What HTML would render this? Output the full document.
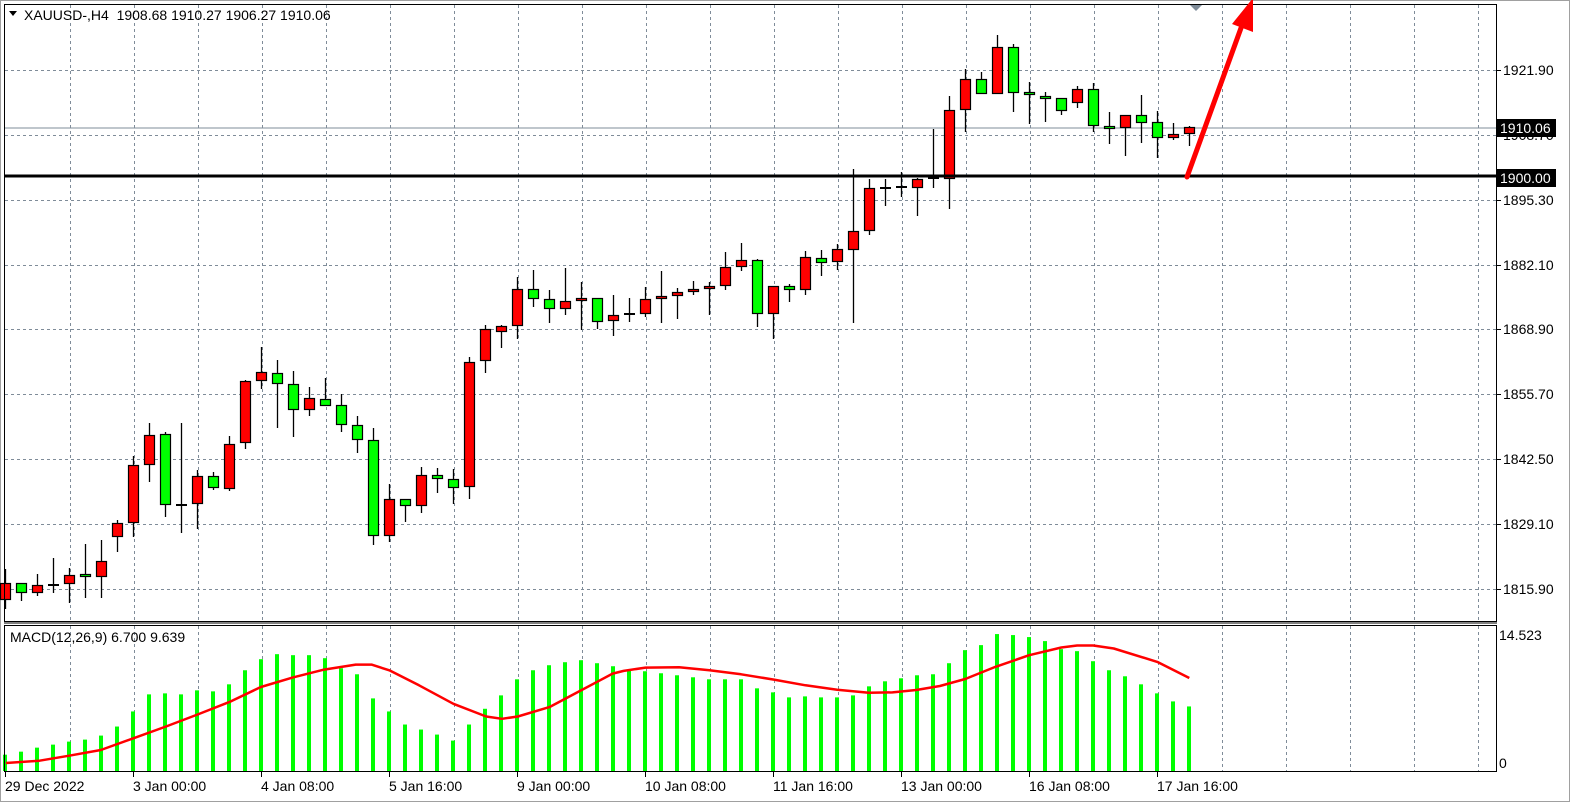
<!DOCTYPE html>
<html><head><meta charset="utf-8"><style>
body{margin:0;background:#fff;width:1571px;height:803px;overflow:hidden;font-family:"Liberation Sans",sans-serif}
svg{display:block}
text{font-family:"Liberation Sans",sans-serif;font-size:14px;fill:#000}
</style></head><body>
<svg id="s" width="1571" height="803" xmlns="http://www.w3.org/2000/svg">
<rect x="0" y="0" width="1571" height="803" fill="#fff"/>
<rect x="0.5" y="0.5" width="1569" height="801" fill="none" stroke="#a0a0a0"/>
<g id="grid"></g>
<line x1="4" y1="128" x2="1497" y2="128" stroke="#7f8c99" stroke-width="1"/>
<g id="candles"></g>
<g id="macd"></g>
<line x1="4" y1="176" x2="1497" y2="176" stroke="#000" stroke-width="3"/>
<rect x="4.5" y="4.5" width="1492" height="617" fill="none" stroke="#000"/>
<rect x="4.5" y="625.5" width="1492" height="146" fill="none" stroke="#000"/>
<line x1="4" y1="623" x2="1497" y2="623" stroke="#000"/>
<polygon points="1190,5 1202,5 1196,11" fill="#7f8c99"/>
<line x1="1187" y1="177" x2="1241" y2="28" stroke="#ff0000" stroke-width="5" stroke-linecap="round"/>
<polygon points="1232,24 1253,-2 1253,32" fill="#ff0000"/>
<polygon points="9,11 17,11 13,16" fill="#000"/>
<text x="24" y="20" xml:space="preserve">XAUUSD-,H4  1908.68 1910.27 1906.27 1910.06</text>
<text x="10" y="642">MACD(12,26,9) 6.700 9.639</text>
<g id="paxis">
<text x="1503" y="75">1921.90</text>
<text x="1503" y="140">1908.70</text>
<text x="1503" y="205">1895.30</text>
<text x="1503" y="270">1882.10</text>
<text x="1503" y="334">1868.90</text>
<text x="1503" y="399">1855.70</text>
<text x="1503" y="464">1842.50</text>
<text x="1503" y="529">1829.10</text>
<text x="1503" y="594">1815.90</text>
<text x="1499" y="640">14.523</text>
<text x="1499" y="768">0</text>
</g>
<rect x="1497" y="119" width="59" height="18" fill="#000"/>
<text x="1500" y="133" style="fill:#fff">1910.06</text>
<rect x="1497" y="169" width="59" height="18" fill="#000"/>
<text x="1500" y="183" style="fill:#fff">1900.00</text>
<g>
<text x="5" y="791">29 Dec 2022</text>
<text x="133" y="791">3 Jan 00:00</text>
<text x="261" y="791">4 Jan 08:00</text>
<text x="389" y="791">5 Jan 16:00</text>
<text x="517" y="791">9 Jan 00:00</text>
<text x="645" y="791">10 Jan 08:00</text>
<text x="773" y="791">11 Jan 16:00</text>
<text x="901" y="791">13 Jan 00:00</text>
<text x="1029" y="791">16 Jan 08:00</text>
<text x="1157" y="791">17 Jan 16:00</text>
</g>
</svg>
<script>
const NS="http://www.w3.org/2000/svg";
function el(p,t,a){const e=document.createElementNS(NS,t);for(const k in a)e.setAttribute(k,a[k]);p.appendChild(e);return e;}
const g=document.getElementById('grid');
for(let k=0;k<=22;k++){const x=Math.round(69.5+64.03*k)+0.5;
 el(g,'line',{x1:x,y1:5,x2:x,y2:621,stroke:'#7f8c99','stroke-dasharray':'3,3'});
 el(g,'line',{x1:x,y1:626,x2:x,y2:771,stroke:'#7f8c99','stroke-dasharray':'3,3'});}
[70,135,200,265,329,394,459,524,589].forEach(y=>{el(g,'line',{x1:5,y1:y+0.5,x2:1497,y2:y+0.5,stroke:'#7f8c99','stroke-dasharray':'3,3'});el(g,'line',{x1:1497,y1:y+0.5,x2:1501,y2:y+0.5,stroke:'#000'});});
el(g,'line',{x1:5,y1:771.5,x2:1497,y2:771.5,stroke:'#7f8c99','stroke-dasharray':'3,3'});
[5,133,261,389,517,645,773,901,1029,1157].forEach(x=>el(g,'line',{x1:x+0.5,y1:772,x2:x+0.5,y2:777,stroke:'#000'}));
const C=[[583,600,569,609,'r'],[583,593,583,601,'g'],[585,593,574,596,'r'],[585,585,558,593,'d'],[575,584,568,603,'r'],[574,577,544,598,'g'],[561,577,540,598,'r'],[523,537,520,552,'r'],[465,523,456,537,'r'],[435,465,423,482,'r'],
[434,505,432,517,'g'],[505,505,423,533,'d'],[476,504,470,529,'r'],[476,488,472,490,'g'],[444,489,436,491,'r'],[381,443,380,449,'r'],[372,381,347,389,'r'],[373,384,360,428,'g'],[384,410,371,437,'g'],[398,410,387,416,'r'],
[399,406,378,406,'g'],[405,425,394,432,'g'],[425,440,416,453,'g'],[440,536,428,545,'g'],[499,536,484,542,'r'],[499,506,499,522,'g'],[475,506,467,513,'r'],[475,479,468,493,'g'],[479,488,469,504,'g'],[362,487,357,499,'r'],
[329,361,325,373,'r'],[326,332,325,348,'r'],[289,326,277,339,'r'],[289,299,270,307,'g'],[299,309,290,323,'g'],[301,309,268,315,'r'],[298,300,282,330,'r'],[298,322,298,329,'g'],[315,321,295,336,'r'],[314,314,298,322,'d'],
[299,314,287,317,'r'],[296,299,271,323,'r'],[292,296,288,319,'r'],[289,292,281,295,'r'],[286,289,282,315,'r'],[267,286,252,290,'r'],[260,267,243,271,'r'],[260,314,259,327,'g'],[286,314,286,339,'r'],[286,290,284,302,'g'],
[257,290,251,295,'r'],[258,263,250,276,'g'],[249,262,244,270,'r'],[231,250,169,323,'r'],[188,231,179,235,'r'],[188,188,179,206,'d'],[187,187,172,197,'d'],[179,188,178,216,'r'],[178,180,129,188,'d'],[110,179,96,209,'r'],
[79,110,69,132,'r'],[79,94,72,94,'g'],[47,94,35,94,'r'],[47,93,44,112,'g'],[92,95,82,124,'g'],[96,98,92,122,'g'],[98,111,98,115,'g'],[89,103,86,108,'r'],[89,126,83,132,'g'],[126,128,112,144,'g'],
[115,128,115,156,'r'],[115,123,95,143,'g'],[122,138,111,158,'g'],[134,138,123,140,'r'],[127,134,126,146,'r']];
const cg=document.getElementById('candles');
C.forEach((c,i)=>{const x=Math.round(5.3+16*i)+0.5;
 el(cg,'line',{x1:x,y1:c[2],x2:x,y2:c[3],stroke:'#000','stroke-width':1.3});
 if(c[4]==='d'){el(cg,'rect',{x:x-5.5,y:c[0]-1,width:11,height:2,fill:'#000'});}
 else el(cg,'rect',{x:x-5,y:c[0]+0.5,width:10,height:Math.max(2,c[1]-c[0]-1),fill:c[4]==='r'?'#ff0000':'#00ff00',stroke:'#000','stroke-width':1.2});
});
const M=[402,393,381,372,363,357,345,318,273,222,219,222,210,213,192,150,117,102,105,105,114,144,162,234,273,312,327,342,360,312,265,225,177,150,135,126,120,129,138,
150,153,159,165,171,177,177,177,204,216,231,228,231,231,225,198,183,174,165,162,129,90,75,42,45,51,63,87,93,123,150,168,192,219,243,258];
const mg=document.getElementById('macd');
M.forEach((v,i)=>{const x=Math.round(5.3+16*i);const y=620+v/2.985;
 el(mg,'rect',{x:x-2,y:y,width:4,height:771-y,fill:'#00ff00'});});
const S1=[[15,427],[100,420],[175,405],[255,388],[340,352],[420,318],[500,282],[580,245],[660,200],[740,172],[820,148],[900,133],[940,133],[985,150],[1060,195],[1147,250],[1230,288],[1270,295],[1310,288],[1390,260],[1470,210],[1550,160]];
const S2=[[0,180],[60,152],[115,142],[200,141],[277,150],[357,162],[440,178],[520,195],[600,208],[680,217],[740,216],[800,209],[860,197],[924,176],[1000,140],[1086,105],[1167,82],[1207,76],[1248,76],[1300,85],[1410,125],[1491,173]];
const pts=S1.map(p=>[p[0]/2.53,620+p[1]/2.985]).concat(S2.map(p=>[600+p[0]/2.53,620+p[1]/2.985])).sort((a,b)=>a[0]-b[0]);
el(mg,'polyline',{points:pts.map(p=>p[0].toFixed(1)+','+p[1].toFixed(1)).join(' '),fill:'none',stroke:'#ff0000','stroke-width':2.5,'stroke-linejoin':'round'});
</script>
</body></html>
